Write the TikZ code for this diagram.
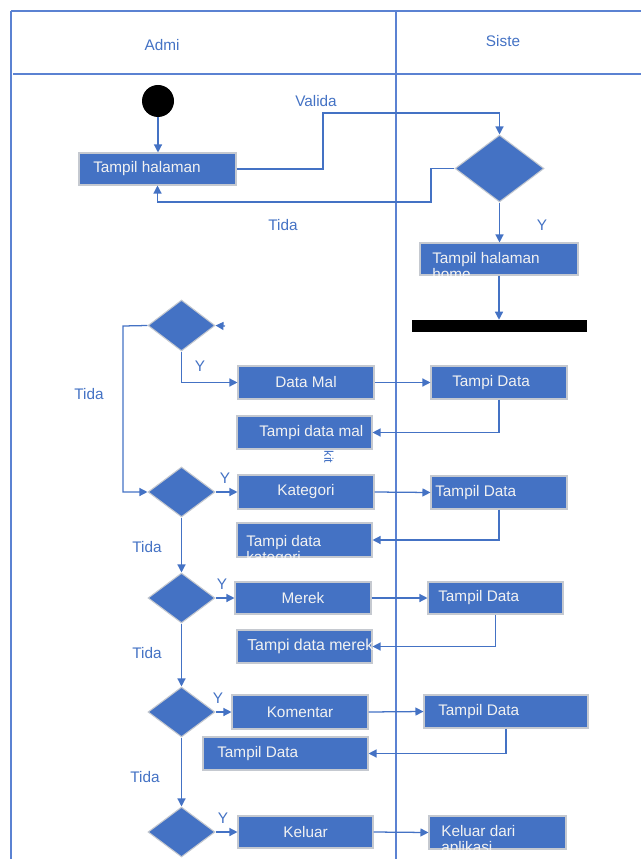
\documentclass[tikz,border=0pt]{standalone}
\usepackage{fontspec}
\setmainfont{Liberation Sans}
\usetikzlibrary{arrows.meta,shapes.geometric}
\definecolor{actblue}{HTML}{4472C4}
\definecolor{laneline}{HTML}{5B82D2}
\definecolor{edgegray}{HTML}{C5C9D0}
\definecolor{paletext}{HTML}{F2F2F2}
\newcommand\pxu{0.75pt}
% activity box from its corners: name, x1, y1, x2, y2
\newcommand\actnode[5]{\node[actbox, minimum width={(#4-#2)*\pxu}, minimum height={(#5-#3)*\pxu}] (#1) at ({(#2+#4)/2},{(#3+#5)/2}) {};}
% decision diamond from its bounding corners
\newcommand\decnode[5]{\node[decision, minimum width={(#4-#2)*\pxu}, minimum height={(#5-#3)*\pxu}] (#1) at ({(#2+#4)/2},{(#3+#5)/2}) {};}
\tikzset{
  lane/.style={draw=laneline, line width=1.1pt},
  actbox/.style={draw=edgegray, line width=0.8pt, fill=actblue, inner sep=0pt},
  decision/.style={diamond, draw=edgegray, line width=0.8pt, fill=actblue, inner sep=0pt},
  boxtext/.style={text=paletext, font=\fontsize{11.5}{13}\selectfont, inner sep=0pt},
  lbl/.style={text=actblue, font=\fontsize{11.5}{13}\selectfont, inner sep=0pt},
  flow/.style={draw=actblue, line width=0.95pt, -{Triangle[length=6pt,width=6pt]}},
}
\begin{document}
\begin{tikzpicture}[x=0.75pt,y=-0.75pt]
\useasboundingbox (0,0) rectangle (641,859);

% swimlanes
\draw[lane] (11,11) -- (641,11);
\draw[lane] (11,11) -- (11,859);
\draw[lane] (396,11) -- (396,859);
\draw[lane] (13,74) -- (641,74);
\node[lbl] (hA) at (162,45) {Admi};
\node[lbl] (hS) at (503,41) {Siste};

% login
\node[circle, fill=black, minimum size={32*\pxu}, inner sep=0pt] (start) at (158,101) {};
\actnode{b0}{79}{153}{236}{185}
\node[boxtext, anchor=west] (b0t) at (93,169) {Tampil halaman};
\draw[flow] (start.south) -- (start.south |- b0.north);

\decnode{d1}{455}{135}{544}{202}
\coordinate (v1) at (323,113);
\draw[flow] (b0.east) -| (v1) -| (d1.north);
\node[lbl] (lv) at (316,101) {Valida};
\coordinate (t1) at (431,202);
\draw[flow] (d1.west) -| (t1) -| (b0.south);
\node[lbl] (lt1) at (283,225) {Tida};

\actnode{b1}{420}{243}{578}{275}
\begin{scope}
  \clip (420,243) rectangle (578,275);
  \node[boxtext, anchor=base west] (b1a) at (432,263) {Tampil halaman};
  \node[boxtext, anchor=base west] (b1b) at (432,279) {home};
\end{scope}
\draw[flow] (d1.south) -- (d1.south |- b1.north);
\node[lbl] (ly1) at (542,225) {Y};

\node[fill=black, inner sep=0pt, minimum width={175*\pxu}, minimum height={12*\pxu}] (bar) at (499.5,326) {};
\draw[flow] (b1.south) -- (b1.south |- bar.north);

% decisions down the admin lane
\decnode{d2}{148}{300}{215}{351}
\decnode{d3}{148}{467}{215}{517}
\decnode{d4}{148}{573}{215}{623}
\decnode{d5}{148}{687}{215}{737}
\decnode{d6}{148}{807}{215}{857}

% menu: data mal
\coordinate (tipfrom) at (225,326);
\draw[flow] (tipfrom) -- (d2.east);
\actnode{dm}{238}{366}{374}{399}
\node[boxtext] (dmt) at (dm) {Data Mal};
\draw[flow] (d2.south) |- (dm.west);
\node[lbl] (ly2) at (200,366) {Y};
\actnode{td1}{431}{366}{567}{399}
\node[boxtext, anchor=west] (td1t) at (452,382.5) {Tampi Data};
\draw[flow] (dm.east) -- (td1.west);
\actnode{tm1}{237}{416}{372}{449}
\node[boxtext, anchor=west] (tm1t) at (259,432.5) {Tampi data mal};
\draw[flow] (td1.south) |- (tm1.east);
\node[lbl, font=\fontsize{9.5}{10}\selectfont, rotate=-90] (kt) at (329,457) {kit};

\coordinate (c2) at (123,326);
\draw[flow] (d2.west) -- (c2) |- (d3.west);
\node[lbl] (lt2) at (89,394) {Tida};

% kategori
\actnode{kat}{238}{475}{374}{509}
\node[boxtext] (katt) at (kat) {Kategori};
\draw[flow] (d3.east) -- (kat.west);
\node[lbl] (ly3) at (225,478) {Y};
\actnode{td2}{431}{476}{567}{509}
\node[boxtext, anchor=west] (td2t) at (435,492.5) {Tampil Data};
\draw[flow] (kat.east) -- (td2.west);
\actnode{tk}{237}{523}{372}{557}
\begin{scope}
  \clip (237,523) rectangle (372,557);
  \node[boxtext, anchor=base west] (tka) at (246,546) {Tampi data};
  \node[boxtext, anchor=base west] (tkb) at (246,562) {kategori};
\end{scope}
\draw[flow] (td2.south) |- (tk.east);
\node[lbl] (lt3) at (147,547) {Tida};
\draw[flow] (d3.south) -- (d4.north);

% merek
\actnode{mer}{235}{582}{371}{614}
\node[boxtext] (mert) at (mer) {Merek};
\draw[flow] (d4.east) -- (mer.west);
\node[lbl] (ly4) at (222,584) {Y};
\actnode{td3}{428}{582}{563}{614}
\node[boxtext, anchor=west] (td3t) at (438,598) {Tampil Data};
\draw[flow] (mer.east) -- (td3.west);
\actnode{tmr}{237}{630}{372}{663}
\node[boxtext, anchor=west, font=\fontsize{11.9}{14}\selectfont] (tmrt) at (247,646.5) {Tampi data merek};
\draw[flow] (td3.south) |- (tmr.east);
\node[lbl] (lt4) at (147,653) {Tida};
\draw[flow] (d4.south) -- (d5.north);

% komentar
\actnode{kom}{232}{695}{368}{729}
\node[boxtext] (komt) at (kom) {Komentar};
\draw[flow] (d5.east) -- (kom.west);
\node[lbl] (ly5) at (218,698) {Y};
\actnode{td4}{424}{695}{588}{728}
\node[boxtext, anchor=west] (td4t) at (438,711.5) {Tampil Data};
\draw[flow] (kom.east) -- (td4.west);
\actnode{tko}{203}{737}{368}{770}
\node[boxtext, anchor=west] (tkot) at (217,753.5) {Tampil Data};
\draw[flow] (td4.south) |- (tko.east);
\node[lbl] (lt5) at (145,777) {Tida};
\draw[flow] (d5.south) -- (d6.north);

% keluar
\actnode{kel}{238}{816}{373}{848}
\node[boxtext] (kelt) at (kel) {Keluar};
\draw[flow] (d6.east) -- (kel.west);
\node[lbl] (ly6) at (223,818) {Y};
\actnode{kda}{429}{816}{566}{849}
\begin{scope}
  \clip (429,816) rectangle (566,849);
  \node[boxtext, anchor=base west] (kdaa) at (441,836.5) {Keluar dari};
  \node[boxtext, anchor=base west] (kdab) at (441,852.5) {aplikasi};
\end{scope}
\draw[flow] (kel.east) -- (kda.west);
\end{tikzpicture}
\end{document}
